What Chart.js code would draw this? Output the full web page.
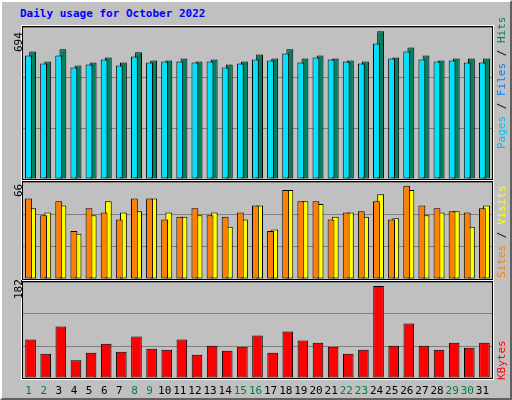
<!DOCTYPE html>
<html><head><meta charset="utf-8">
<script src="https://cdn.jsdelivr.net/npm/chart.js@4/dist/chart.umd.min.js"></script>
<style>
body{margin:0;background:#c0c0c0;font-family:"DejaVu Sans Mono",monospace;}
#wrap{position:relative;width:512px;height:400px;box-sizing:border-box;border:2px solid;border-color:#fff #606060 #606060 #fff;}
.pan{position:absolute;left:20px;width:471px;box-sizing:border-box;border:1px solid #000;outline:1px solid #fff;}
.pan canvas{display:block}
.t{position:absolute;white-space:nowrap;font-size:11px;}
.rot{transform-origin:0 0;transform:rotate(-90deg);}
</style></head><body>
<div id="wrap">
<div class="t" style="left:18px;top:5px;color:#0000ff;font-weight:bold;font-size:11px">Daily usage for October 2022</div>
<div class="pan" style="top:24px;height:154px"><canvas id="c1" width="469" height="152"></canvas></div>
<div class="pan" style="top:179px;height:99px"><canvas id="c2" width="469" height="97"></canvas></div>
<div class="pan" style="top:279px;height:98px"><canvas id="c3" width="469" height="96"></canvas></div>
<div class="t rot" style="left:10px;top:50px;font-size:11px">694</div>
<div class="t rot" style="left:10px;top:195px">66</div>
<div class="t rot" style="left:10px;top:297px">182</div>
<div class="t rot" style="left:493px;top:147px"><span style="color:#00c0ff">Pages</span> / <span style="color:#0080ff">Files</span> / <span style="color:#008060">Hits</span></div>
<div class="t rot" style="left:493px;top:276px"><span style="color:#ff8000">Sites</span> / <span style="color:#ffff00">Visits</span></div>
<div class="t rot" style="left:493px;top:378px;color:#ff0000">KBytes</div>
<div id="xl"></div>
</div>
<script>
const days=["1","2","3","4","5","6","7","8","9","10","11","12","13","14","15","16","17","18","19","20","21","22","23","24","25","26","27","28","29","30","31"];
const weekend=[1,2,8,9,15,16,22,23,29,30];
const hits=[599,552,609,533,547,571,547,595,557,557,566,552,561,538,552,585,566,609,566,580,566,557,552,694,571,618,580,557,566,566,566];
const files=[580,543,580,524,538,561,533,576,547,552,552,547,552,524,543,561,557,590,547,571,561,552,543,637,566,599,561,552,557,547,547];
const sites=[50,47,52,32,45,55,47,48,57,47,44,45,47,37,42,52,35,63,55,53,44,47,44,60,43,63,45,47,48,37,52];
const visits=[57,45,55,34,50,47,42,57,57,42,44,50,45,44,47,52,34,63,55,55,42,47,48,55,42,66,52,50,48,47,50];
const kbytes=[76,48,102,35,50,68,52,82,58,56,76,46,64,54,62,84,50,92,74,70,62,48,56,182,64,108,64,56,70,60,70];

function mk(id,ds,max,cat,bar){
  new Chart(document.getElementById(id),{type:'bar',data:{labels:days,datasets:ds.map(d=>Object.assign({borderColor:'#000',borderWidth:1,borderSkipped:false,categoryPercentage:cat,barPercentage:bar},d))},
  options:{responsive:false,animation:false,layout:{padding:0},plugins:{legend:{display:false},tooltip:{enabled:false}},
  scales:{x:{display:false},y:{min:0,max:max,ticks:{display:false,stepSize:max/3},grid:{color:'#808080',drawTicks:false,lineWidth:1},border:{display:false}}}}});
}
mk('c1',[{data:hits,backgroundColor:'#008060',order:2},{data:files,backgroundColor:'#00e0ff',order:1}],714,0.55,1.65);
mk('c2',[{data:sites,backgroundColor:'#ffff00',order:2},{data:visits,backgroundColor:'#ff8000',order:1}],68.6,0.55,1.65);
mk('c3',[{data:kbytes,backgroundColor:'#ff0000'}],190,0.7,1);
const xl=document.getElementById('xl');
days.forEach((d,i)=>{const e=document.createElement('div');e.className='t';e.textContent=d;
 e.style.left=(19+(i+0.5)*469/31-15)+'px';e.style.width='30px';e.style.textAlign='center';e.style.top='382px';
 e.style.color=weekend.includes(+d)?'#008040':'#000';xl.appendChild(e);});
</script></body></html>
